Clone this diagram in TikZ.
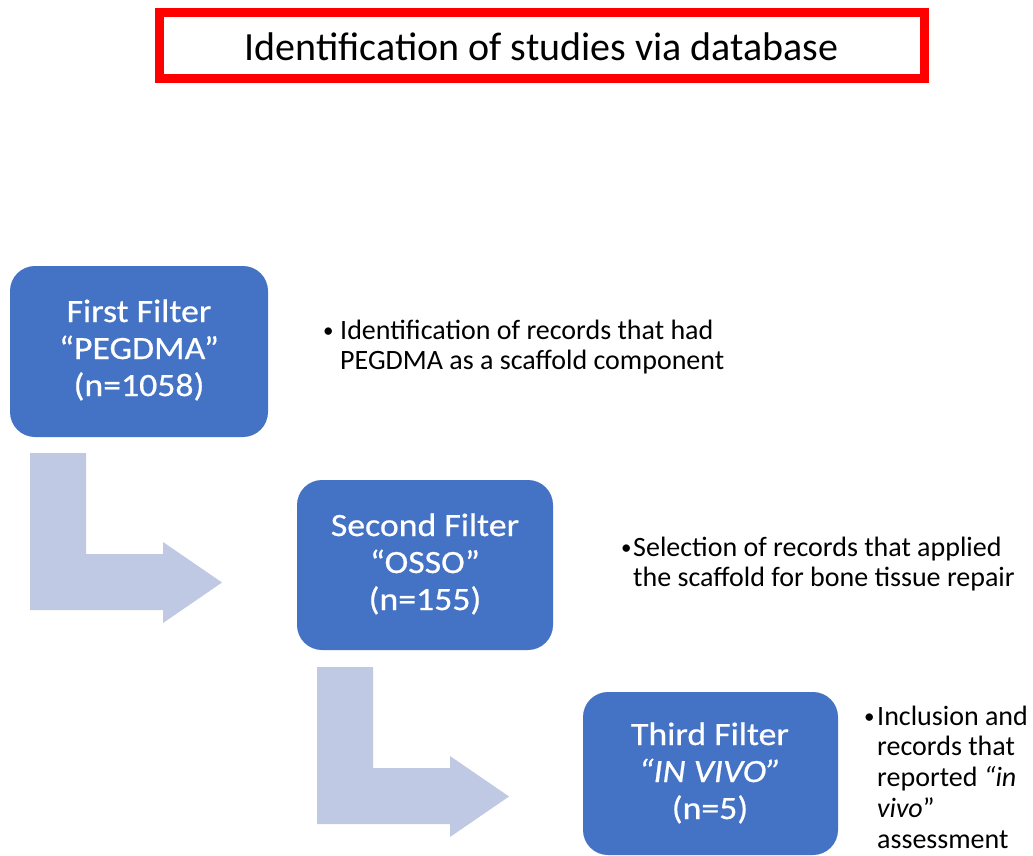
\documentclass[tikz,border=0pt]{standalone}
\usepackage{fontspec}
\setmainfont{Carlito}
\newfontfamily\boxfont{Carlito}[FakeStretch=1.1,FakeBold=0.6]
\newcommand{\mybullet}[1]{\makebox[#1][l]{\raisebox{1.5pt}{\fontsize{21}{21}\selectfont•}}}
\definecolor{boxblue}{HTML}{4472C4}
\definecolor{arrowblue}{HTML}{BFC9E3}
\definecolor{titlered}{HTML}{FF0000}
\begin{document}
\begin{tikzpicture}[x=1pt,y=-1pt,
  filterbox/.style={fill=boxblue, draw=none, rounded corners=25pt},
  filtertext/.style={text=white, align=center, inner sep=0pt, font=\boxfont\fontsize{32.5}{37}\selectfont},
  bullettext/.style={anchor=base west, inner sep=0pt, font=\fontsize{28}{30.8}\selectfont},
  bigarrow/.style={fill=arrowblue, draw=none}]
\useasboundingbox (0,0) rectangle (1033,856);
\fill[white] (0,0) rectangle (1033,856);
% title
\draw[titlered, line width=9pt] (159,13) rectangle (924,79);
\node (title) at (541.5,47) {\fontsize{40}{44}\selectfont Identification of studies via database};
% boxes
\fill[filterbox] (10,266) rectangle (268,437);
\node[filtertext] (box1) at (139,350) {First Filter\\“PEGDMA”\\(n=1058)};
\fill[filterbox] (297,480) rectangle (553,650);
\node[filtertext] (box2) at (425,564) {Second Filter\\“OSSO”\\(n=155)};
\fill[filterbox] (583,692) rectangle (838,855);
\node[filtertext] (box3) at (710,773) {Third Filter\\\textit{“IN VIVO”}\\(n=5)};
% bent arrows
\fill[bigarrow] (30,453) -- (86,453) -- (86,554) -- (163,554) -- (163,542) -- (222,582.5) -- (163,623) -- (163,610) -- (30,610) -- cycle;
\fill[bigarrow] (317,667) -- (373,667) -- (373,768) -- (450,768) -- (450,756) -- (509,796.5) -- (450,837) -- (450,824) -- (317,824) -- cycle;
% bullet texts
\node[bullettext] (t1) at (323,339) {\parbox[t]{480pt}{\hangindent=17pt\hangafter=1\mybullet{17pt}Identification of records that had\\PEGDMA as a scaffold component}};
\node[bullettext] (t2) at (621,556) {\parbox[t]{480pt}{\hangindent=12pt\hangafter=1\mybullet{12pt}Selection of records that applied\\the scaffold for bone tissue repair}};
\node[bullettext] (t3) at (864,725) {\parbox[t]{200pt}{\hangindent=13pt\hangafter=1\mybullet{13pt}Inclusion and\\records that\\reported \textit{“in}\\\textit{vivo}”\\assessment}};
\end{tikzpicture}
\end{document}
